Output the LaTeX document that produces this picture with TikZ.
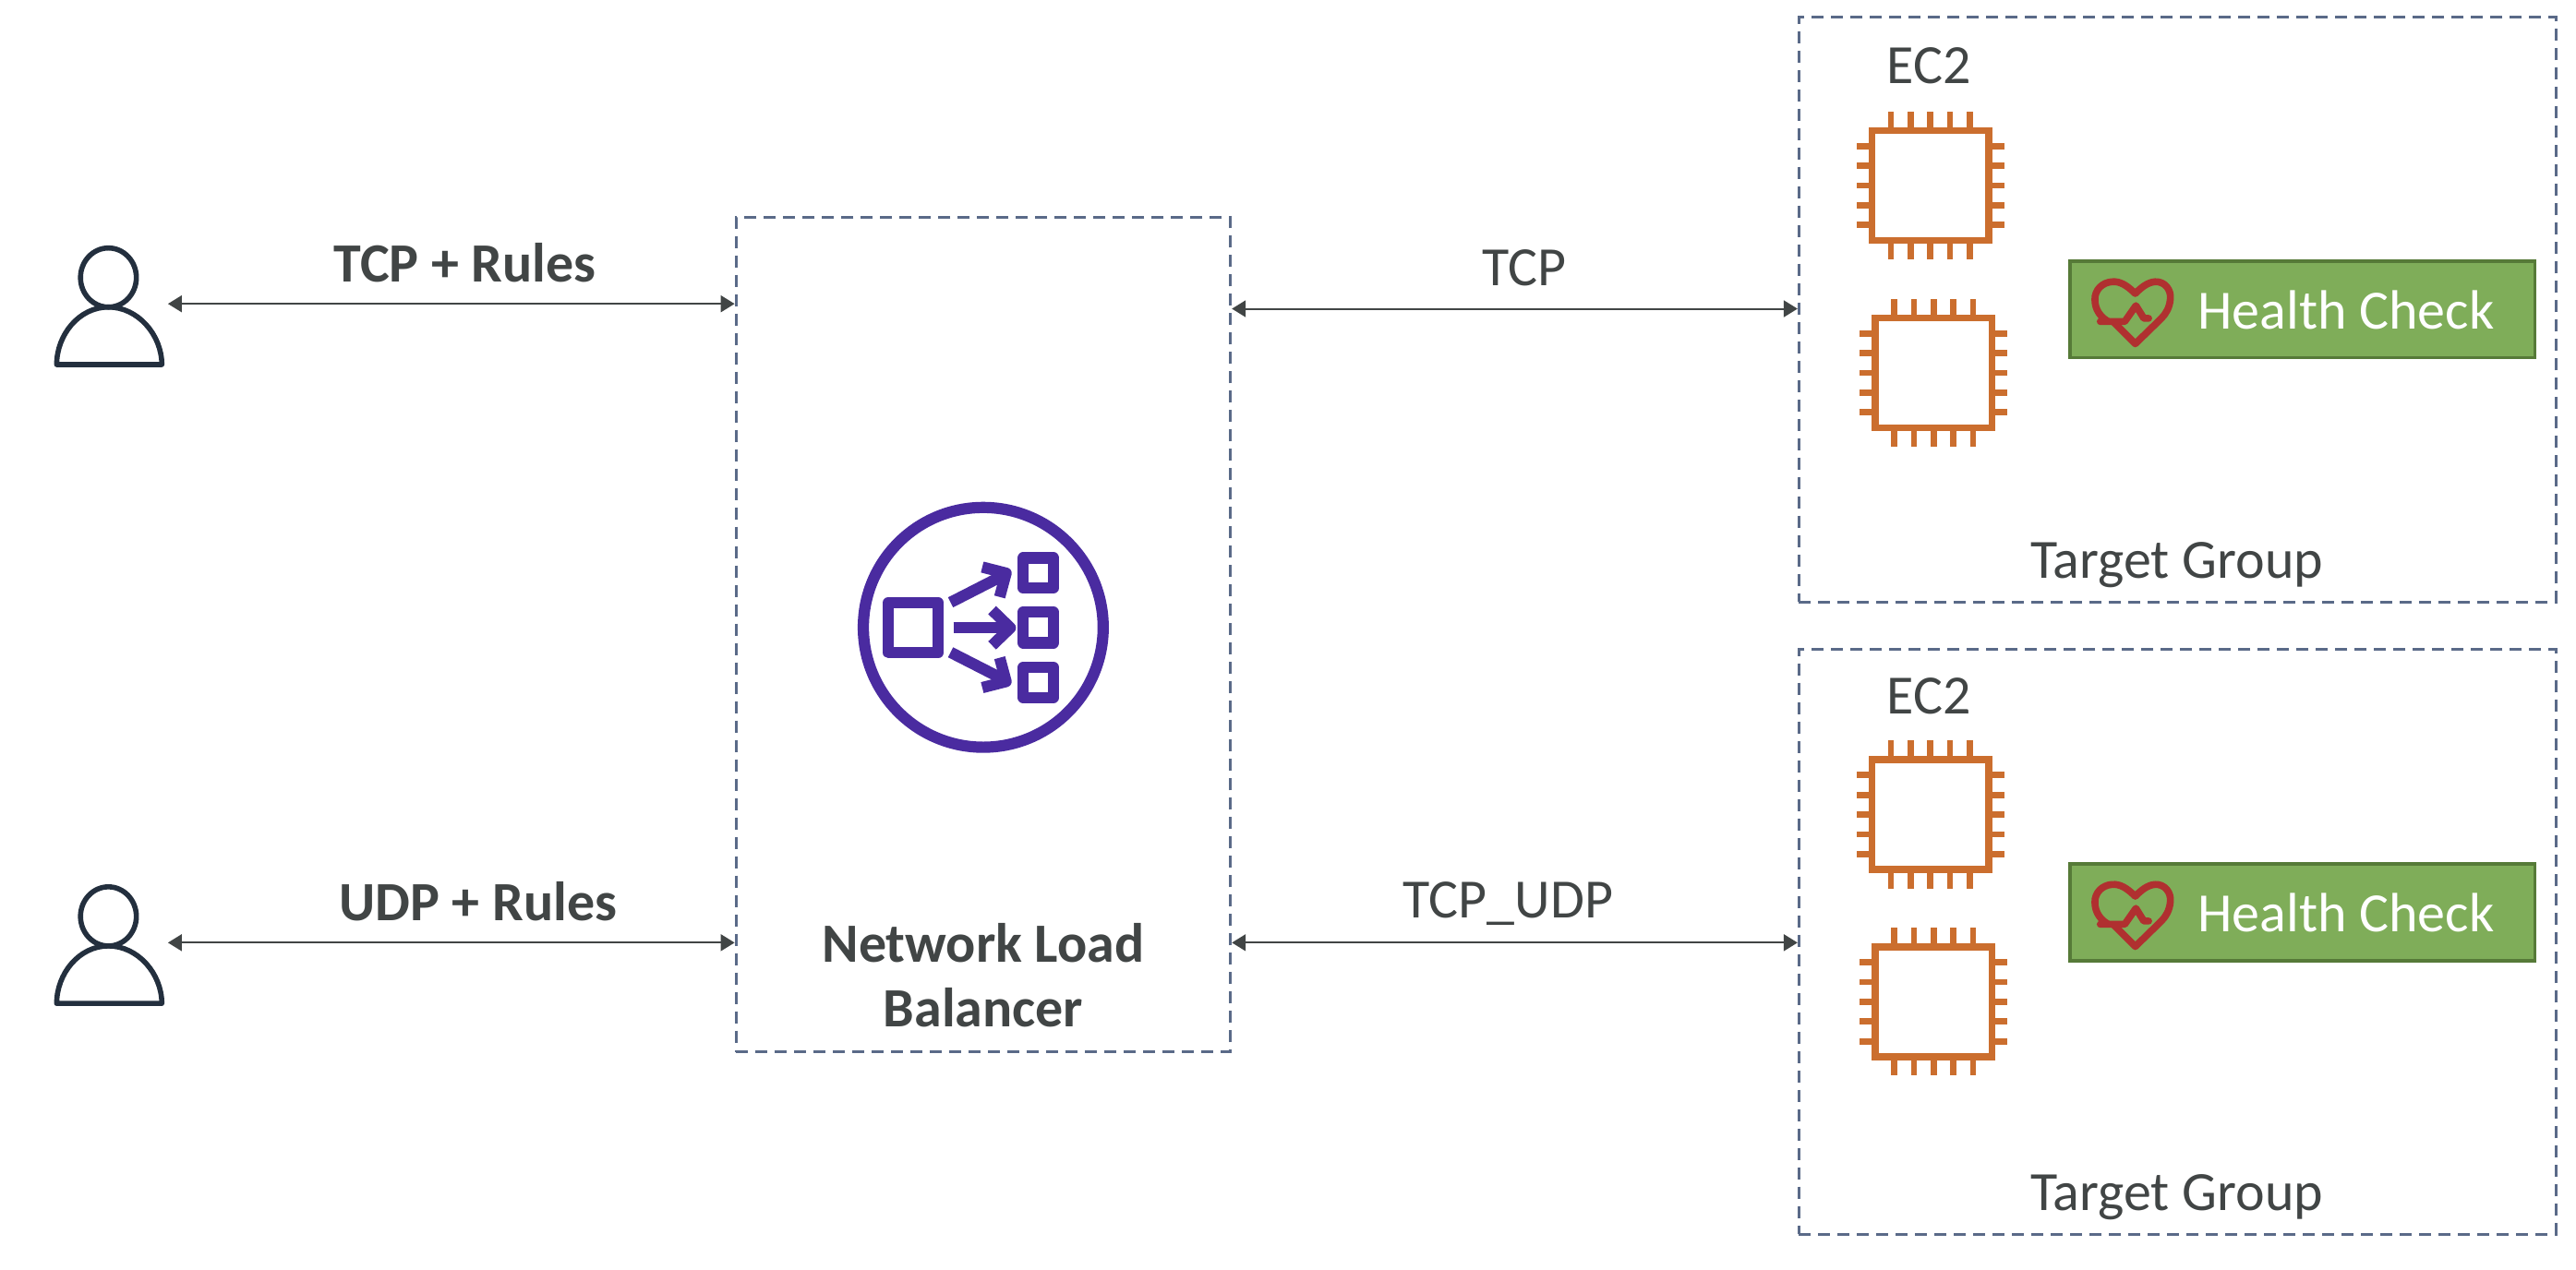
\documentclass[tikz,border=0pt]{standalone}
\usepackage{fontspec}
\setmainfont{Carlito}
\usetikzlibrary{arrows.meta}
\definecolor{txt}{HTML}{414545}
\definecolor{dash}{HTML}{5A6A88}
\definecolor{chipc}{HTML}{CB6E2E}
\definecolor{purp}{HTML}{4A2BA0}
\definecolor{usr}{HTML}{232F3E}
\definecolor{grn}{HTML}{7FAD59}
\definecolor{grnb}{HTML}{567A38}
\definecolor{hrt}{HTML}{B03030}
\def\uu{0.8897pt}
\tikzset{
  x=0.8897pt,y=-0.8897pt,
  dashbox/.style={draw=dash,line width=1.5pt,dash pattern=on 6.5pt off 4pt,inner sep=0pt},
  lab/.style={text=txt,font=\fontsize{30}{35}\selectfont,inner sep=0pt},
  blab/.style={text=txt,font=\fontsize{30}{35}\selectfont\bfseries,inner sep=0pt,align=center},
  biarrow/.style={draw=txt,line width=1pt,{Triangle[length=7.5pt,width=9pt]}-{Triangle[length=7.5pt,width=9pt]}},
  hc/.style={draw=grnb,fill=grn,line width=1.6pt,minimum width=283*\uu,minimum height=59*\uu,inner sep=0pt},
  usernode/.style={minimum width=72*\uu,minimum height=10pt,inner sep=0pt},
  pics/chip/.style={code={
    \draw[chipc,line width=3.8pt] (-35.5,-33.5) rectangle (35.5,33.5);
    \foreach \t in {-24,-12,0,12,24}{
      \draw[chipc,line width=3.4pt] (\t,-35) -- (\t,-45) (\t,35) -- (\t,45) (-37,\t) -- (-45,\t) (37,\t) -- (45,\t);
    }
  }},
  pics/person/.style={code={
    \draw[usr,line width=2.8pt] (0,0) ellipse [x radius=17,y radius=18];
    \draw[usr,line width=2.8pt,line join=round] (-31.5,53) .. controls (-31.5,35) and (-18,18) .. (0,18) .. controls (18,18) and (32.5,35) .. (32.5,53) -- cycle;
  }}
}
\newcommand\heartat[2]{%
  \begin{scope}[shift={(#1,#2)},x=0.1724pt,y=-0.1724pt,hrt,line width=3.8pt,line cap=round,line join=round]
    \draw (150,258) .. controls (120,240) and (108,210) .. (112,180) .. controls (118,150) and (145,133) .. (175,135) .. controls (200,137) and (220,155) .. (238,172) .. controls (255,155) and (275,137) .. (300,135) .. controls (330,133) and (352,160) .. (348,190) .. controls (346,215) and (335,235) .. (320,250) -- (238,330) -- (170,262);
    \draw (128,260) -- (205,260) -- (240,210) -- (265,250) -- (280,250);
  \end{scope}}
\begin{document}
\begin{tikzpicture}
\useasboundingbox (0,0) rectangle (1568,773.3);
% boxes
\node[dashbox,minimum width=301*\uu,minimum height=508*\uu] (lb) at (598.5,386.5) {};
\node[dashbox,minimum width=461*\uu,minimum height=356*\uu] (tg1) at (1325.5,188.5) {};
\node[dashbox,minimum width=461*\uu,minimum height=356*\uu] (tg2) at (1325.5,573.5) {};
% users
\node[usernode] (u1) at (66,185) {};
\node[usernode] (u2) at (66,574) {};
\pic at (66,169) {person};
\pic at (66,558) {person};
% connector anchors
\coordinate (tcpy) at (928,188);
\coordinate (udpy) at (928,574);
\draw[biarrow] (u1.east) -- (u1.east -| lb.west);
\draw[biarrow] (u2.east) -- (u2.east -| lb.west);
\draw[biarrow] (tcpy -| lb.east) -- (tcpy -| tg1.west);
\draw[biarrow] (udpy -| lb.east) -- (udpy -| tg2.west);
% labels
\node[blab] (l1) at (283,160) {TCP + Rules};
\node[blab] (l2) at (291,549) {UDP + Rules};
\node[lab] (l3) at (928,163) {TCP};
\node[lab] (l4) at (918,550) {TCP\_UDP};
\node[blab] (nlb) at (598.5,594) {Network Load\\Balancer};
% NLB icon
\begin{scope}[shift={(598.5,382)},purp,line width=6.1pt,line join=round]
  \draw (0,0) circle [radius=73];
  \draw (-57.7,-15) rectangle (-27.4,15.4);
  \draw (24.4,-42.3) rectangle (42.7,-24);
  \draw (24.4,-9.2) rectangle (42.7,9.4);
  \draw (24.4,24.4) rectangle (42.7,42.7);
  \draw (-18.2,0.3) -- (15,0.3);
  \draw (5.4,-10.5) -- (16.5,0.3) -- (5.4,11);
  \draw (-19.9,-15.2) -- (11,-31);
  \draw (-0.6,-36.7) -- (13.9,-33) -- (10,-18.5);
  \draw (-19.9,15.2) -- (11,31);
  \draw (-0.6,36.7) -- (13.9,33) -- (10,18.5);
\end{scope}
% target group 1
\node[lab] (ec1) at (1174,40) {EC2};
\pic at (1175,113) {chip};
\pic at (1177,227) {chip};
\node[hc] (hc1) at (1401.5,188.5) {};
\node[lab,text=white] (hct1) at (1428,189) {Health Check};
\heartat{1253.6}{145.4}
\node[lab] (tgl1) at (1325,344) {Target Group};
% target group 2
\node[lab] (ec2) at (1174,424) {EC2};
\pic at (1175,496) {chip};
\pic at (1177,610) {chip};
\node[hc] (hc2) at (1401.5,555.5) {};
\node[lab,text=white] (hct2) at (1428,556) {Health Check};
\heartat{1253.6}{512.4}
\node[lab] (tgl2) at (1325,729) {Target Group};
\end{tikzpicture}
\end{document}
